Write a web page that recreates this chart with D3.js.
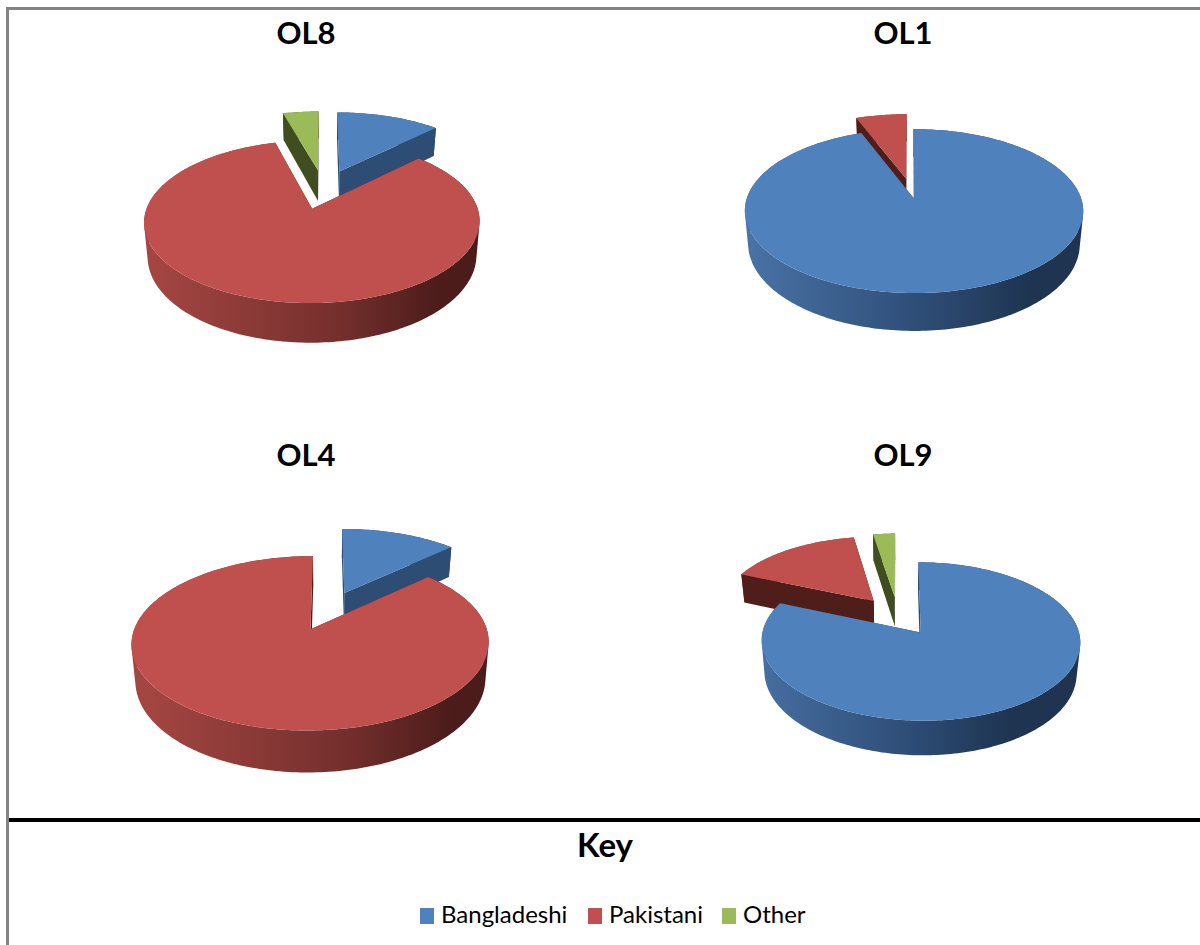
<!DOCTYPE html>
<html>
<head>
<meta charset="utf-8">
<script src="https://cdnjs.cloudflare.com/ajax/libs/d3/7.8.5/d3.min.js"></script>
<style>
  html, body { margin: 0; padding: 0; background: #fff; }
  svg { display: block; }
  text { font-family: Lato, "Open Sans", sans-serif; fill: #000; }
</style>
</head>
<body>
<div id="chart"></div>
<script>
const series = ["Bangladeshi", "Pakistani", "Other"];
const seriesColors = ["#4f81bd", "#c0504d", "#9bbb59"];
const cutColors = ["#2d4d75", "#4f1e1b", "#3f4d20"];
// left, middle and right of the shaded rim
const rimColors = [
  ["#4a74a8", "#2d4c75", "#1e3450"],
  ["#a34541", "#742f2d", "#4b1c1a"],
  ["#5f7335", "#4a5a28", "#3f4d20"]
];

const ol8Values = [12.5, 83.2, 4.3];
const ol1Values = [94.2, 5.8, 0];
const ol4Values = [13, 87, 0];
const ol9Values = [81.4, 16, 2.6];
const legendX = [420, 588, 722];

// layout of each pie: a/b are the disc scales, k the perspective, e the explosion
const pies = [
  { title: "OL8", values: ol8Values, cx: 323.5, cy: 189, a: 159, b: 73, k: 0.153, h: 32, e: 0.27, tx: 306, ty: 44 },
  { title: "OL1", values: ol1Values, cx: 910, cy: 188.5, a: 164, b: 77, k: 0.15, h: 31.5, e: 0.13, tx: 903, ty: 44 },
  { title: "OL4", values: ol4Values, cx: 328, cy: 610.5, a: 170, b: 79, k: 0.155, h: 34, e: 0.25, tx: 306, ty: 466 },
  { title: "OL9", values: ol9Values, cx: 898, cy: 616, a: 154.5, b: 74.5, k: 0.11, h: 30, e: 0.26, tx: 903, ty: 466 }
];

const width = 1200;
const height = 945;

const svg = d3.select("#chart").append("svg")
  .attr("width", width)
  .attr("height", height);

const defs = svg.append("defs");

// frame
svg.append("rect").attr("x", 6).attr("y", 7).attr("width", 3).attr("height", height - 7).attr("fill", "#848484");
svg.append("rect").attr("x", 6).attr("y", 7).attr("width", width - 6).attr("height", 3).attr("fill", "#848484");
svg.append("rect").attr("x", 9).attr("y", 818).attr("width", width - 9).attr("height", 4).attr("fill", "#000");

const pieLayout = d3.pie().sort(null).startAngle(0).endAngle(2 * Math.PI);
const pathLine = d3.line();

function drawPie(pie, pieIndex) {
  // point on the disc: u to the right, v to the viewer, z 0 on top and 1 at the base
  const project = (u, v, z) => {
    const w = 1 - pie.k * v;
    return [
      pie.cx + pie.a * u * (1 - 0.02 * z) / w,
      pie.cy + (pie.b * v + pie.h * z) / w
    ];
  };

  const arcs = pieLayout(pie.values)
    .map((d, i) => ({ ...d, seriesIndex: i }))
    .filter(d => d.value > 0)
    .map(d => {
      const mid = (d.startAngle + d.endAngle) / 2;
      return { ...d, ou: pie.e * Math.sin(mid), ov: -pie.e * Math.cos(mid) };
    })
    .sort((p, q) => p.ov - q.ov);

  const group = svg.append("g").attr("class", "pie-" + pie.title);

  series.forEach((s, i) => {
    const grad = defs.append("linearGradient")
      .attr("id", `rim-${pieIndex}-${i}`)
      .attr("gradientUnits", "userSpaceOnUse")
      .attr("x1", pie.cx - pie.a * 1.05)
      .attr("x2", pie.cx + pie.a * 1.05)
      .attr("y1", 0).attr("y2", 0);
    grad.append("stop").attr("offset", 0).attr("stop-color", rimColors[i][0]);
    grad.append("stop").attr("offset", 0.55).attr("stop-color", rimColors[i][1]);
    grad.append("stop").attr("offset", 0.85).attr("stop-color", rimColors[i][2]);
    grad.append("stop").attr("offset", 1).attr("stop-color", rimColors[i][2]);
  });

  arcs.forEach(d => {
    const steps = d3.range(d.startAngle, d.endAngle, 0.02).concat([d.endAngle]);
    const edge = z => steps.map(t => project(d.ou + Math.sin(t), d.ov - Math.cos(t), z));
    const apex = z => project(d.ou, d.ov, z);
    const top = edge(0);
    const base = edge(1);

    // the rim folds at the sides, so every quad gets the same winding or the fold cancels out
    const rim = d3.range(top.length - 1).map(i => {
      const quad = [top[i], top[i + 1], base[i + 1], base[i]];
      return pathLine(d3.polygonArea(quad) < 0 ? quad.reverse() : quad) + "Z";
    }).join("");

    group.append("path")
      .attr("d", rim)
      .attr("fill", `url(#rim-${pieIndex}-${d.seriesIndex})`);

    [[top[0], base[0]], [top[top.length - 1], base[base.length - 1]]].forEach(([a, b]) => {
      group.append("path")
        .attr("d", pathLine([apex(0), a, b, apex(1)]) + "Z")
        .attr("fill", cutColors[d.seriesIndex]);
    });

    group.append("path")
      .attr("d", pathLine([apex(0)].concat(top)) + "Z")
      .attr("fill", seriesColors[d.seriesIndex]);
  });

  svg.append("text")
    .attr("x", pie.tx)
    .attr("y", pie.ty)
    .attr("text-anchor", "middle")
    .attr("font-size", 31)
    .attr("font-weight", 700)
    .text(pie.title);
}

pies.forEach(drawPie);

// key
svg.append("text")
  .attr("x", 605)
  .attr("y", 857)
  .attr("text-anchor", "middle")
  .attr("font-size", 33)
  .attr("font-weight", 700)
  .text("Key");

const legend = svg.append("g")
  .selectAll("g")
  .data(series)
  .join("g")
  .attr("transform", (d, i) => `translate(${legendX[i]},908)`);

legend.append("rect")
  .attr("width", 14)
  .attr("height", 16)
  .attr("fill", (d, i) => seriesColors[i]);

legend.append("text")
  .attr("x", 21)
  .attr("y", 15)
  .attr("font-size", 24)
  .text(d => d);
</script>
</body>
</html>
